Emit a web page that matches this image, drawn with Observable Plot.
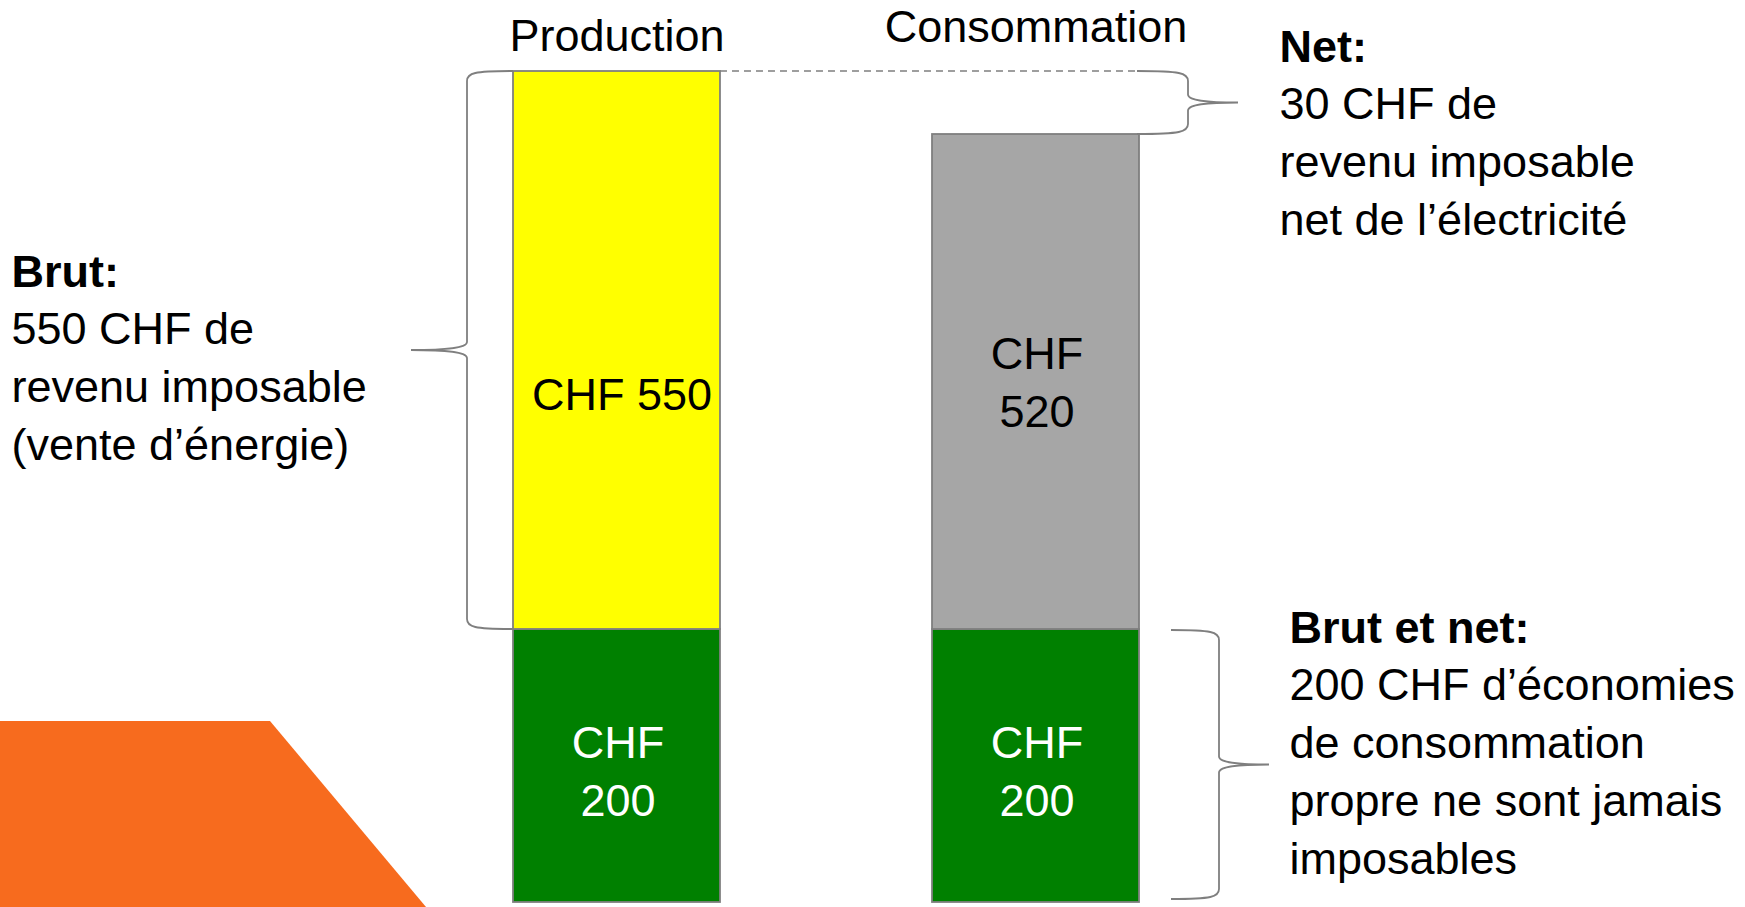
<!DOCTYPE html>
<html><head><meta charset="utf-8">
<script src="https://cdn.jsdelivr.net/npm/d3@7"></script>
<script src="https://cdn.jsdelivr.net/npm/@observablehq/plot@0.6"></script>
<style>
html,body{margin:0;padding:0;background:#fff;}
#chart{width:1745px;height:907px;overflow:hidden;}
</style></head><body><div id="chart"></div>
<script>
// ---- data ----
const categories = ["Production", "Consommation"];
const segCategory = ["Production", "Production", "Consommation", "Consommation"];
const segKind = ["autoconsommation", "vente", "autoconsommation", "achat"];
const segValues = [200, 550, 200, 520];
const segLabels = ["CHF\n200", "CHF 550", "CHF\n200", "CHF\n520"];
const brutHeader = "Brut:";
const brutLines = ["550 CHF de", "revenu imposable", "(vente d’énergie)"];
const netHeader = "Net:";
const netLines = ["30 CHF de", "revenu imposable", "net de l’électricité"];
const bothHeader = "Brut et net:";
const bothLines = ["200 CHF d’économies", "de consommation", "propre ne sont jamais", "imposables"];

// ---- derived ----
const segments = segValues.map((v, i) => ({cat: segCategory[i], kind: segKind[i], value: v, label: segLabels[i]}));
const selfUse = segValues[0];
const prodTotal = segValues[0] + segValues[1];
const consTotal = segValues[2] + segValues[3];

// ---- styles ----
const FONT = "'Liberation Sans', Arial, sans-serif";
const FS = 45;
const kindFill = {autoconsommation: "#008000", vente: "#FFFF00", achat: "#A6A6A6"};
const kindText = {autoconsommation: "#FFFFFF", vente: "#000000", achat: "#000000"};
const kindDy = {autoconsommation: 2, vente: 24, achat: -3};

function bracePath(xEnd, xSpine, xTip, y0, y1) {
  const ym = (y0 + y1) / 2, r = 10, t = 8;
  const xm = (xSpine + xTip) / 2;
  const k = (xEnd - xSpine) * 0.15;
  return `M${xEnd},${y0} C${xSpine + k},${y0} ${xSpine},${y0 + 2} ${xSpine},${y0 + r}` +
    ` L${xSpine},${ym - t} C${xSpine},${ym - 1} ${xm},${ym} ${xTip},${ym}` +
    ` C${xm},${ym} ${xSpine},${ym + 1} ${xSpine},${ym + t}` +
    ` L${xSpine},${y1 - r} C${xSpine},${y1 - 2} ${xSpine + k},${y1} ${xEnd},${y1}`;
}

function decoMark(index, scales, values, dimensions) {
  const g = d3.create("svg:g");
  g.append("polygon")
    .attr("points", "0,721 270,721 426,907 0,907")
    .attr("fill", "#F76B1E");
  return g.node();
}

function bracesMark(index, scales) {
  const x = scales.x, y = scales.y, bw = x.bandwidth();
  const pL = x(categories[0]), pR = pL + bw;
  const cL = x(categories[1]), cR = cL + bw;
  const g = d3.create("svg:g").attr("fill", "none").attr("stroke", "#7F7F7F").attr("stroke-width", 1.8);
  g.append("line")
    .attr("x1", pR).attr("x2", cR - 4)
    .attr("y1", y(prodTotal)).attr("y2", y(prodTotal))
    .attr("stroke-dasharray", "7,5").attr("stroke-width", 1.5);
  g.append("path").attr("d", bracePath(pL, pL - 46, pL - 102, y(prodTotal), y(selfUse)));
  g.append("path").attr("d", bracePath(cR - 2, cR + 49, cR + 99, y(prodTotal), y(consTotal)));
  g.append("path").attr("d", bracePath(cR + 32, cR + 80, cR + 130, y(selfUse) + 1, y(0) - 3));
  return g.node();
}

const txt = (data, opts) => Plot.text(data, {text: d => d, fontFamily: FONT, fontSize: FS, ...opts});
const segText = (kind) => Plot.text(segments, Plot.stackY({x: "cat", y: "value",
  text: d => d.kind === kind ? d.label : null,
  fill: d => kindText[d.kind], fontFamily: FONT, fontSize: FS, lineHeight: 1.29,
  dy: kindDy[kind], dx: kind === "vente" ? 5 : 1}));

const chart = Plot.plot({
  width: 1745,
  height: 907,
  margin: 0,
  x: {type: "band", domain: categories, range: [513, 1139], paddingInner: 0.506, paddingOuter: 0, round: false, axis: null},
  y: {type: "linear", domain: [0, selfUse, consTotal, prodTotal], range: [902, 629, 134, 71], axis: null},
  color: {type: "identity"},
  marks: [
    decoMark,
    Plot.barY(segments, {x: "cat", y: "value", fill: d => kindFill[d.kind], stroke: "#7F7F7F", strokeWidth: 1.8}),
    segText("vente"),
    segText("achat"),
    segText("autoconsommation"),
    bracesMark,
    Plot.text([categories[0]], {x: d => d, text: d => d, frameAnchor: "top", lineAnchor: "middle", dy: 36, fontFamily: FONT, fontSize: FS}),
    Plot.text([categories[1]], {x: d => d, text: d => d, frameAnchor: "top", lineAnchor: "middle", dy: 27, fontFamily: FONT, fontSize: FS}),
    txt([brutHeader], {frameAnchor: "top-left", textAnchor: "start", lineAnchor: "middle", dx: 11, dy: 272, fontWeight: "bold"}),
    txt([brutLines.join("\n")], {frameAnchor: "top-left", textAnchor: "start", lineAnchor: "middle", lineHeight: 1.29, dx: 11, dy: 383}),
    txt([netHeader], {frameAnchor: "top-left", textAnchor: "start", lineAnchor: "middle", dx: 1279, dy: 47, fontWeight: "bold"}),
    txt([netLines.join("\n")], {frameAnchor: "top-left", textAnchor: "start", lineAnchor: "middle", lineHeight: 1.29, dx: 1279, dy: 158}),
    txt([bothHeader], {frameAnchor: "top-left", textAnchor: "start", lineAnchor: "middle", dx: 1289, dy: 628, fontWeight: "bold"}),
    txt([bothLines.join("\n")], {frameAnchor: "top-left", textAnchor: "start", lineAnchor: "middle", lineHeight: 1.29, dx: 1289, dy: 768})
  ]
});
document.getElementById("chart").appendChild(chart);
</script>
</body></html>
